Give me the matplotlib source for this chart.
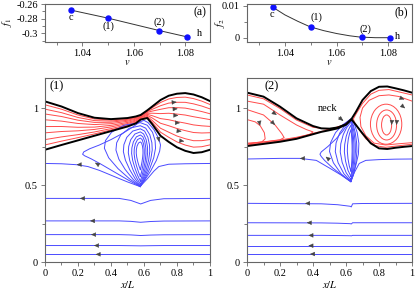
import numpy as np
import matplotlib
matplotlib.use('Agg')
import matplotlib.pyplot as plt
from matplotlib.ticker import MultipleLocator

plt.rcParams['font.family'] = ['Liberation Serif', 'DejaVu Serif']
plt.rcParams['mathtext.fontset'] = 'stix'
plt.rcParams['font.size'] = 7.5

RED = '#ff4a4a'
BLUE = '#4a4aff'
SPINE = '#666666'

# %% top panels: f1, f2 versus v
v_pts = [1.0355, 1.0499, 1.0699, 1.0806]
f1_pts = [-0.2683, -0.2793, -0.2964, -0.305]
f2_pts = [0.0097, 0.0034, 0.0002, 0.0]
pt_names = ['c', '(1)', '(2)', 'h']
v_curve_b = [1.0349, 1.04, 1.045, 1.0497, 1.055, 1.06, 1.065, 1.069, 1.075, 1.0806]
f2_curve_b = [0.0097, 0.0071, 0.0051, 0.0034, 0.0022, 0.0013, 0.0006, 0.0002, 0.0, 0.0]
names_a_xy = [(1.0355, -0.2786), (1.0502, -0.2903), (1.0699, -0.2855), (1.0853, -0.300)]
names_b_xy = [(1.0349, 0.0071), (1.0520, 0.0063), (1.0710, 0.0026), (1.0835, 0.0005)]

# %% panel (1): free-surface lines and streamlines
xg1 = [0, 0.1, 0.2, 0.3, 0.4, 0.5, 0.55, 0.58, 0.62, 0.65, 0.7, 0.75, 0.8, 0.85, 0.9, 0.95, 1.0]
up1 = [1.043, 1.01, 0.967, 0.937, 0.928, 0.935, 0.945, 0.955, 0.985, 1.01, 1.052, 1.08, 1.093, 1.097, 1.088, 1.07, 1.045]
lo1 = [0.729, 0.76, 0.79, 0.82, 0.85, 0.88, 0.9, 0.925, 0.935, 0.895, 0.82, 0.78, 0.745, 0.722, 0.708, 0.713, 0.729]
red_frac1 = [0.1, 0.21, 0.35, 0.48, 0.62, 0.74, 0.84, 0.93]

# outermost recirculation loop (blue)
out1_x = [0.576, 0.50, 0.42, 0.34, 0.28, 0.24, 0.228, 0.235, 0.27, 0.33, 0.40, 0.47, 0.53, 0.575,
          0.60, 0.625, 0.66, 0.69, 0.70, 0.695, 0.675, 0.64, 0.60, 0.576]
out1_y = [0.49, 0.535, 0.585, 0.635, 0.67, 0.69, 0.70, 0.715, 0.735, 0.76, 0.795, 0.835, 0.875, 0.91,
          0.92, 0.905, 0.86, 0.80, 0.76, 0.72, 0.66, 0.59, 0.525, 0.49]
# inner loops: drop outline (u across, w up) and the extents of each loop
drop_u = [0, -0.3, -0.62, -0.88, -1.0, -0.97, -0.8, -0.45, 0, 0.45, 0.8, 0.97, 1.0, 0.88, 0.62, 0.3, 0]
drop_w = [0, 0.12, 0.28, 0.45, 0.6, 0.72, 0.85, 0.96, 1.0, 0.96, 0.85, 0.72, 0.6, 0.45, 0.28, 0.12, 0]
loop1_xc = 0.578
loop1_left = [0.36, 0.43, 0.475, 0.505, 0.525, 0.54, 0.553]
loop1_right = [0.67, 0.65, 0.635, 0.622, 0.612, 0.602, 0.594]
loop1_top = [0.905, 0.885, 0.865, 0.845, 0.825, 0.805, 0.78]
loop1_bottom = [0.49, 0.49, 0.495, 0.505, 0.525, 0.555, 0.6]

sep1_x = [0, 0.1, 0.19, 0.26, 0.33, 0.42, 0.5, 0.576, 0.62, 0.66, 0.69, 0.75, 0.85, 1.0]
sep1_y = [0.64, 0.638, 0.632, 0.62, 0.595, 0.555, 0.52, 0.49, 0.54, 0.59, 0.62, 0.635, 0.638, 0.64]

low1_x = [0, 0.45, 0.52, 0.58, 0.64, 0.72, 1.0]
low1_y = [[0.413, 0.413, 0.40, 0.377, 0.40, 0.411, 0.413],
          [0.267, 0.267, 0.264, 0.258, 0.263, 0.266, 0.267],
          [0.178, 0.178, 0.176, 0.172, 0.175, 0.177, 0.178],
          [0.107, 0.107, 0.106, 0.105, 0.106, 0.107, 0.107],
          [0.05, 0.05, 0.05, 0.05, 0.05, 0.05, 0.05]]

# arrowheads: x, y, direction (deg, screen)
arr1 = [(0.212, 0.413, 180), (0.273, 0.267, 180), (0.279, 0.178, 180), (0.297, 0.107, 180),
        (0.307, 0.05, 180), (0.192, 0.632, 182), (0.303, 0.645, 150), (0.692, 0.78, -80),
        (0.798, 1.039, 5), (0.804, 0.995, 3), (0.808, 0.952, 0), (0.818, 0.903, -3),
        (0.828, 0.849, -5), (0.844, 0.784, -8)]

# %% panel (2)
xg2 = [0, 0.1, 0.2, 0.3, 0.4, 0.45, 0.5, 0.55, 0.6, 0.634, 0.66, 0.7, 0.75, 0.8, 0.85, 0.9, 0.95, 1.0]
up2 = [1.10, 1.074, 1.009, 0.933, 0.883, 0.868, 0.866, 0.874, 0.895, 0.93, 0.975, 1.052, 1.11, 1.138, 1.14, 1.128, 1.115, 1.10]
lo2 = [0.753, 0.767, 0.781, 0.80, 0.83, 0.845, 0.856, 0.868, 0.892, 0.926, 0.89, 0.835, 0.771, 0.738, 0.734, 0.742, 0.748, 0.753]

# red closed loops on the right: centre x, centre y, width, height
ell2 = [(0.846, 0.89, 0.061, 0.13), (0.846, 0.89, 0.121, 0.195), (0.843, 0.895, 0.19, 0.26)]
# red open lines on the right (they leave through x = 1)
red2r = [([1, 0.92, 0.84, 0.78, 0.72, 0.68, 0.65, 0.645, 0.66, 0.70, 0.75, 0.8, 0.86, 0.92, 1.0],
          [0.765, 0.755, 0.745, 0.755, 0.80, 0.86, 0.91, 0.93, 0.96, 1.03, 1.09, 1.115, 1.12, 1.105, 1.085]),
         ([1, 0.92, 0.84, 0.77, 0.72, 0.69, 0.685, 0.70, 0.74, 0.8, 0.86, 0.92, 1.0],
          [0.775, 0.768, 0.76, 0.772, 0.82, 0.88, 0.94, 1.0, 1.05, 1.08, 1.085, 1.075, 1.045])]
# red C-shaped lines on the left (entering at x = 0)
red2l = [([0, 0.1, 0.2, 0.3, 0.4, 0.5, 0.58, 0.632, 0.58, 0.5, 0.4, 0.3, 0.2, 0.1, 0],
          [1.085, 1.06, 0.997, 0.922, 0.875, 0.861, 0.885, 0.927, 0.888, 0.86, 0.836, 0.806, 0.787, 0.773, 0.76]),
         ([0, 0.1, 0.2, 0.3, 0.36, 0.4, 0.38, 0.3, 0.2, 0.1, 0],
          [1.045, 1.025, 0.955, 0.89, 0.86, 0.845, 0.828, 0.81, 0.792, 0.779, 0.766]),
         ([0, 0.1, 0.17, 0.21, 0.225, 0.2, 0.1, 0],
          [0.99, 0.955, 0.89, 0.835, 0.808, 0.794, 0.78, 0.771]),
         ([0, 0.05, 0.08, 0.105, 0.11, 0.09, 0.03, 0],
          [0.925, 0.91, 0.885, 0.84, 0.80, 0.78, 0.772, 0.77])]

out2_x = [0.628, 0.58, 0.52, 0.47, 0.45, 0.442, 0.45, 0.49, 0.54, 0.58, 0.61, 0.632,
          0.65, 0.668, 0.678, 0.675, 0.66, 0.645, 0.628]
out2_y = [0.522, 0.56, 0.61, 0.66, 0.685, 0.70, 0.715, 0.75, 0.80, 0.85, 0.895, 0.93,
          0.90, 0.84, 0.77, 0.70, 0.63, 0.57, 0.522]
# inner loops of (2) are spindles pinched at both ends
spin_u = [0, -0.45, -0.82, -1.0, -0.95, -0.72, -0.4, 0, 0.4, 0.72, 0.95, 1.0, 0.82, 0.45, 0]
spin_w = [0, 0.12, 0.3, 0.48, 0.62, 0.78, 0.9, 1.0, 0.9, 0.78, 0.62, 0.48, 0.3, 0.12, 0]
loop2_xc = 0.63
loop2_left = [0.50, 0.535, 0.565, 0.59, 0.608]
loop2_right = [0.666, 0.657, 0.649, 0.642, 0.637]
loop2_top = [0.93, 0.925, 0.91, 0.89, 0.86]
loop2_bottom = [0.522, 0.525, 0.535, 0.555, 0.59]

sep2_x = [0, 0.1, 0.2, 0.32, 0.42, 0.5, 0.57, 0.628, 0.65, 0.68, 0.72, 0.8, 0.9, 1.0]
sep2_y = [0.669, 0.671, 0.673, 0.673, 0.66, 0.61, 0.565, 0.522, 0.58, 0.64, 0.66, 0.665, 0.668, 0.669]

low2_x = [0, 0.45, 0.55, 0.625, 0.632, 0.64, 0.7, 1.0]
low2_y = [[0.381, 0.378, 0.372, 0.362, 0.358, 0.378, 0.38, 0.381],
          [0.255, 0.254, 0.252, 0.249, 0.247, 0.255, 0.255, 0.255],
          [0.173, 0.173, 0.172, 0.171, 0.170, 0.173, 0.173, 0.173],
          [0.106, 0.106, 0.106, 0.106, 0.106, 0.106, 0.106, 0.106],
          [0.052, 0.052, 0.052, 0.052, 0.052, 0.052, 0.052, 0.052]]

arr2 = [(0.352, 0.381, 180), (0.362, 0.255, 180), (0.372, 0.173, 180), (0.372, 0.106, 180),
        (0.382, 0.052, 180), (0.321, 0.673, 180), (0.477, 0.684, 140),
        (0.18, 0.955, -35), (0.17, 0.89, -45), (0.079, 0.885, -80),
        (0.954, 1.056, -20), (0.958, 0.998, -40), (0.876, 0.89, -95), (0.906, 0.89, -95)]


def add_arrows(ax, arrows):
    for x, y, ang in arrows:
        a = np.deg2rad(ang)
        ax.annotate('', xy=(x, y), xytext=(-2.0 * np.cos(a), -2.0 * np.sin(a)),
                    textcoords='offset points',
                    arrowprops=dict(arrowstyle='-|>,head_length=0.55,head_width=0.25',
                                    color='#444444', lw=0.3, shrinkA=0, shrinkB=0,
                                    mutation_scale=5.5))


def draw_loops(ax, u, w, xc, lefts, rights, tops, bottoms, color):
    u = np.array(u)
    w = np.array(w)
    for l, r, t, b in zip(lefts, rights, tops, bottoms):
        xs = np.where(u < 0, xc + u * (xc - l), xc + u * (r - xc))
        ys = b + w * (t - b)
        ax.plot(xs, ys, color=color, lw=0.7)


def style_axes(ax):
    for s in ax.spines.values():
        s.set_color(SPINE)
        s.set_linewidth(0.8)
    ax.tick_params(which='both', direction='out', color=SPINE, width=0.6, pad=2)
    ax.tick_params(which='major', length=3)
    ax.tick_params(which='minor', length=2)


fig = plt.figure(figsize=(4.15, 2.89), dpi=100)
ax_a = fig.add_axes([0.1084, 0.8557, 0.3976, 0.1304])
ax_b = fig.add_axes([0.5952, 0.8557, 0.3976, 0.1304])
ax1 = fig.add_axes([0.1084, 0.0934, 0.3976, 0.6367])
ax2 = fig.add_axes([0.5952, 0.0934, 0.3976, 0.6367])

# (a)
ax_a.plot(v_pts, f1_pts, color='#333333', lw=0.7)
ax_a.plot(v_pts, f1_pts, 'o', color='#1010ff', ms=3.6)
for name, (tx, ty) in zip(pt_names, names_a_xy):
    ax_a.text(tx, ty, name, ha='center', va='center', fontsize=7.5)
ax_a.set_xlim(1.0255, 1.0895)
ax_a.set_ylim(-0.3116, -0.26)
ax_a.xaxis.set_major_locator(MultipleLocator(0.02))
ax_a.xaxis.set_minor_locator(MultipleLocator(0.01))
ax_a.yaxis.set_major_locator(MultipleLocator(0.02))
ax_a.yaxis.set_minor_locator(MultipleLocator(0.01))
ax_a.yaxis.set_major_formatter(plt.FuncFormatter(lambda v, p: '%g' % round(v, 3)))
ax_a.set_xlabel(r'$v$', labelpad=0)
ax_a.set_ylabel(r'$f_1$', labelpad=0)
ax_a.yaxis.set_label_coords(-0.19, 0.5)
ax_a.text(0.94, 0.79, '(a)', transform=ax_a.transAxes, ha='center', va='center', fontsize=8.5)
style_axes(ax_a)

# (b)
ax_b.plot(v_curve_b, f2_curve_b, color='#333333', lw=0.7)
ax_b.plot(v_pts, f2_pts, 'o', color='#1010ff', ms=3.6)
for name, (tx, ty) in zip(pt_names, names_b_xy):
    ax_b.text(tx, ty, name, ha='center', va='center', fontsize=7.5)
ax_b.set_xlim(1.0253, 1.0892)
ax_b.set_ylim(-0.00125, 0.0105)
ax_b.xaxis.set_major_locator(MultipleLocator(0.02))
ax_b.xaxis.set_minor_locator(MultipleLocator(0.01))
ax_b.yaxis.set_major_locator(MultipleLocator(0.01))
ax_b.yaxis.set_minor_locator(MultipleLocator(0.005))
ax_b.yaxis.set_major_formatter(plt.FuncFormatter(lambda v, p: '%g' % round(v, 4)))
ax_b.set_xlabel(r'$v$', labelpad=0)
ax_b.set_ylabel(r'$f_2$', labelpad=0)
ax_b.yaxis.set_label_coords(-0.12, 0.5)
ax_b.text(0.9376, 0.79, '(b)', transform=ax_b.transAxes, ha='center', va='center', fontsize=8.5)
style_axes(ax_b)

# (1)
xg1a, up1a, lo1a = np.array(xg1), np.array(up1), np.array(lo1)
for f in red_frac1:
    ax1.plot(xg1a, lo1a + f * (up1a - lo1a), color=RED, lw=0.7)
ax1.plot(out1_x, out1_y, color=BLUE, lw=0.7)
draw_loops(ax1, drop_u, drop_w, loop1_xc, loop1_left, loop1_right, loop1_top, loop1_bottom, BLUE)
ax1.plot(sep1_x, sep1_y, color=BLUE, lw=0.7)
for ys in low1_y:
    ax1.plot(low1_x, ys, color=BLUE, lw=0.7)
ax1.plot(xg1, up1, color='k', lw=1.4)
ax1.plot(xg1, lo1, color='k', lw=1.4)
add_arrows(ax1, arr1)
ax1.text(0.073, 1.143, '(1)', ha='center', va='center', fontsize=9)

# (2)
for xs, ys in red2l + red2r:
    ax2.plot(xs, ys, color=RED, lw=0.7)
for cx, cy, w, h in ell2:
    ax2.add_patch(matplotlib.patches.Ellipse((cx, cy), w, h, fill=False, ec=RED, lw=0.7))
ax2.plot(out2_x, out2_y, color=BLUE, lw=0.7)
draw_loops(ax2, spin_u, spin_w, loop2_xc, loop2_left, loop2_right, loop2_top, loop2_bottom, BLUE)
ax2.plot(sep2_x, sep2_y, color=BLUE, lw=0.7)
for ys in low2_y:
    ax2.plot(low2_x, ys, color=BLUE, lw=0.7)
ax2.plot(xg2, up2, color='k', lw=1.4)
ax2.plot(xg2, lo2, color='k', lw=1.4)
add_arrows(ax2, arr2)
ax2.text(0.152, 1.143, '(2)', ha='center', va='center', fontsize=9)
ax2.annotate('neck', xy=(0.585, 0.915), xytext=(0.49, 1.0), ha='center', va='center',
             fontsize=7.5, arrowprops=dict(arrowstyle='-|>,head_length=0.5,head_width=0.2',
                                           color='#444444', lw=0.5, shrinkA=2, shrinkB=0,
                                           mutation_scale=6))

for ax in (ax1, ax2):
    ax.set_xlim(0, 1)
    ax.set_ylim(0, 1.195)
    ax.xaxis.set_major_locator(MultipleLocator(0.2))
    ax.xaxis.set_minor_locator(MultipleLocator(0.1))
    ax.yaxis.set_major_locator(MultipleLocator(0.5))
    ax.yaxis.set_minor_locator(MultipleLocator(0.25))
    ax.xaxis.set_major_formatter(plt.FuncFormatter(lambda v, p: '%g' % round(v, 2)))
    ax.yaxis.set_major_formatter(plt.FuncFormatter(lambda v, p: '%g' % round(v, 2)))
    ax.set_xlabel(r'$x/L$', labelpad=1)
    style_axes(ax)

fig.savefig('out.png', dpi=100)
